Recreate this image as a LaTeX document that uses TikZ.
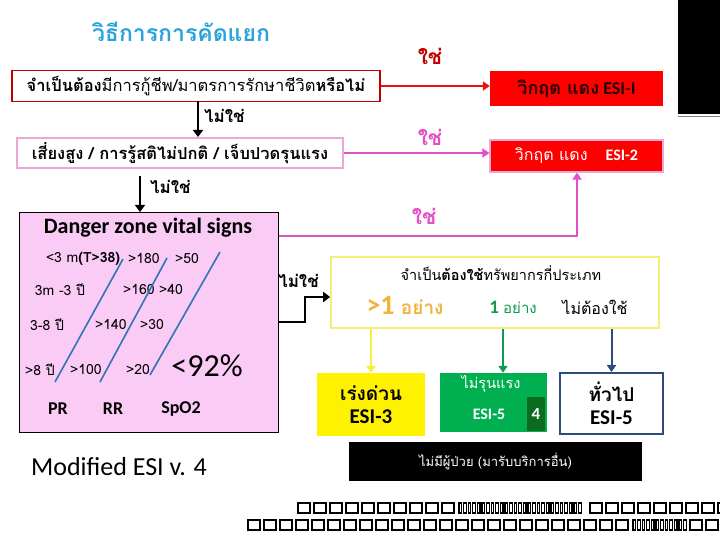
\documentclass[tikz,border=0pt]{standalone}
\usepackage{fontspec}
\setmainfont{Carlito}
\newfontfamily\thai[Script=Thai]{Loma}
\usepackage{xcolor}
\usepackage{tikz}
\usetikzlibrary{arrows.meta,positioning}

\definecolor{titleblue}{HTML}{29A3DB}
\definecolor{boxred}{HTML}{C00000}
\definecolor{arrred}{HTML}{E81010}
\definecolor{esired}{HTML}{FF0000}
\definecolor{boxpink}{HTML}{E8A8D8}
\definecolor{linepink}{HTML}{E44EC6}
\definecolor{dzfill}{HTML}{F9CBF5}
\definecolor{diagblue}{HTML}{2E75B6}
\definecolor{resyellow}{HTML}{F2EE78}
\definecolor{txtorange}{HTML}{F0B43C}
\definecolor{esigreen}{HTML}{00B050}
\definecolor{txtgreen}{HTML}{119A4E}
\definecolor{darkgreen}{HTML}{0B6B1E}
\definecolor{navy}{HTML}{2F4B7C}
\definecolor{arryellow}{HTML}{F5EE3A}

\newcommand{\fs}[1]{\fontsize{#1}{#1}\selectfont}

\begin{document}
\begin{tikzpicture}[x=1pt,y=-1pt,
  every node/.style={inner sep=0pt},
  qbox/.style={draw,line width=1.6pt,fill=white},
  esibox/.style={fill=esired,minimum width=173},
  lowbox/.style={minimum height=60,align=center},
  arr/.style={line width=2.6pt,-{Triangle[length=7pt,width=10pt]}},
  thinarr/.style={line width=2pt,-{Triangle[length=7pt,width=9pt]}},
  nolbl/.style={font=\thai\bfseries\fs{17}},
  yeslbl/.style={font=\thai\bfseries\fs{21}},
  vs/.style={font=\thai\fs{14}},
  diag/.style={diagblue,line width=1.6pt},
  tofu/.style={line width=1.8pt}]
\useasboundingbox (0,0) rectangle (720,540);

% title
\node[font=\thai\bfseries\fs{23},text=titleblue] (title) at (181,32) {วิธีการการคัดแยก};

% questions on the left
\node[qbox,draw=boxred,minimum width=368,minimum height=31,font=\thai\fs{16.5}] (q1) at (196,86)
  {{\bfseries จำเป็นต้อง}มีการกู้ชีพ/มาตรการรักษาชีวิต{\bfseries หรือไม่}};
\node[qbox,draw=boxpink,line width=1.4pt,minimum width=326,minimum height=30,font=\thai\bfseries\fs{16.5}] (q2) at (180,153)
  {เสี่ยงสูง / การรู้สติไม่ปกติ / เจ็บปวดรุนแรง};

% red boxes on the right
\node[esibox,minimum height=35,font=\bfseries\fs{18},text=black!85!red] (esi1) at (576.5,88.5)
  {{\thai วิกฤต แดง} ESI-I};
\node[esibox,draw=boxpink,line width=1.2pt,minimum height=32,font=\fs{16},text=white] (esi2) at (576.5,156)
  {{\thai วิกฤต แดง}\hspace{18pt}\textbf{ESI-2}};

% black block, top right
\fill (678,0) rectangle (720,114);
\draw[gray,line width=1pt] (678,117) -- (720,117);

% danger zone box
\node[draw,line width=1pt,fill=dzfill,minimum width=259,minimum height=219] (dz) at (148.5,322.5) {};
\node[font=\bfseries\fs{22}] (dzt) at (148,228) {Danger zone vital signs};
\node[vs] (pr1) at (83,259) {<3 m\textbf{(T>38)}};
\node[vs] (rr1) at (144,259) {>180};
\node[vs] (sp1) at (187,259) {>50};
\node[vs] (pr2) at (60,290) {3m -3 ปี};
\node[vs] (rr2) at (139,290) {>160};
\node[vs] (sp2) at (171,290) {>40};
\node[vs] (pr3) at (47,325) {3-8 ปี};
\node[vs] (rr3) at (111,325) {>140};
\node[vs] (sp3) at (152,325) {>30};
\node[vs] (pr4) at (40,370) {>8 ปี};
\node[vs] (rr4) at (86,370) {>100};
\node[vs] (sp4) at (138,370) {>20};
\node[font=\fs{32}] (o2) at (207,366) {<92\%};
\draw[diag] (55,382) -- (123,259);
\draw[diag] (100,382) -- (167,258);
\draw[diag] (150,375) -- (220,252);
\node[font=\bfseries\fs{18}] (pr) at (58,409) {PR};
\node[font=\bfseries\fs{18}] (rr) at (113,409) {RR};
\node[font=\bfseries\fs{18}] (sp) at (181,409) {SpO2};

% resources box
\node[draw=resyellow,line width=1.6pt,fill=white,minimum width=328,minimum height=71] (res) at (495,292.5) {};
\node[font=\thai\fs{14.5}] (rest) at (501,273) {จำเป็น{\bfseries ต้องใช้}ทรัพยากรกี่ประเภท};
\node[text=txtorange,font=\bfseries\fs{28}] (many) at (405,305) {>1 {\thai\fs{19}อย่าง}};
\node[text=txtgreen,font=\bfseries\fs{19}] (one) at (513,307) {1 {\thai\mdseries\fs{15}อย่าง}};
\node[font=\thai\fs{16}] (none) at (595,307) {ไม่ต้องใช้};

% outcome boxes
\node[lowbox,fill=yellow,minimum width=108,minimum height=63,font=\bfseries\fs{21}] (esi3) at (371,404.5)
  {{\thai\fs{19}เร่งด่วน}\\[2pt]ESI-3};
\node[lowbox,fill=esigreen,minimum width=107,minimum height=59,text=white] (esi4) at (493.5,402.5) {};
\node[font=\thai\fs{14.5},text=white] (mild) at (491,384) {ไม่รุนแรง};
\node[font=\bfseries\fs{16},text=white] (mildesi) at (489,414) {ESI-5};
\node[fill=darkgreen,minimum width=18,minimum height=34,font=\bfseries\fs{17},text=white] (four) at (536,414) {4};
\node[lowbox,draw=navy,line width=1.8pt,fill=white,minimum width=103,minimum height=61,font=\bfseries\fs{21}] (esi5) at (611.5,403.5)
  {{\thai\fs{19}ทั่วไป}\\[2pt]ESI-5};
\node[fill=black,minimum width=293,minimum height=39,font=\thai\fs{13},text=white] (nopt) at (495.5,461.5)
  {ไม่มีผู้ป่วย (มารับบริการอื่น)};

\node[font=\fs{26}] (mod) at (119,467) {Modified ESI v. 4};

% connectors
\coordinate (d1a) at (198,101);
\coordinate (d1b) at (198,137);
\draw[arr] (d1a) -- (d1b);
\node[nolbl,anchor=west] (no1) at (204,116) {ไม่ใช่};
\coordinate (d2a) at (140,176);
\coordinate (d2b) at (140,212);
\draw[arr] (d2a) -- (d2b);
\node[nolbl,anchor=west] (no2) at (150,187) {ไม่ใช่};

\draw[arrred,thinarr] (q1.east) -- (q1.east -| esi1.west);
\node[yeslbl,text=boxred] (yes1) at (430,56) {ใช่};
\draw[linepink,thinarr] (q2.east) -- (q2.east -| esi2.west);
\node[yeslbl,text=linepink] (yes2) at (430,137) {ใช่};

\coordinate (pk1) at (279,236);
\coordinate (pk2) at (577,236);
\draw[linepink,line width=2.4pt,-{Triangle[length=7pt,width=9pt]}] (pk1) -- (pk2) -- (esi2.south -| pk2);
\node[yeslbl,text=linepink] (yes3) at (424,216) {ใช่};

\coordinate (bk1) at (279,322);
\coordinate (bk2) at (305,297);
\draw[arr,line width=2.4pt] (bk1) -| (bk2) -- (bk2 -| res.west);
\node[nolbl,anchor=east] (no3) at (319,281) {ไม่ใช่};

\draw[arryellow,thinarr,line width=2.6pt] (res.south -| esi3) -- (esi3.north);
\draw[txtgreen,thinarr] (res.south -| 503,0) -- (esi4.north -| 503,0);
\draw[navy,thinarr] (res.south -| esi5) -- (esi5.north);

% missing glyph boxes
\foreach \i in {0,...,9}
  \draw[tofu] (298+16*\i,503) rectangle ++(12,10);
\foreach \i in {0,...,26}
  \draw[line width=1.2pt] (459+4.6*\i,503) rectangle ++(2.6,10);
\foreach \i in {0,...,8}
  \draw[tofu] (590+16*\i,503) rectangle ++(12,10);
\foreach \i in {0,...,23}
  \draw[tofu] (248+16*\i,520) rectangle ++(12,10);
\foreach \i in {0,...,11}
  \draw[line width=1.2pt] (633+4.6*\i,520) rectangle ++(2.6,10);
\foreach \i in {0,...,1}
  \draw[tofu] (690+16*\i,520) rectangle ++(12,10);
\end{tikzpicture}
\end{document}
